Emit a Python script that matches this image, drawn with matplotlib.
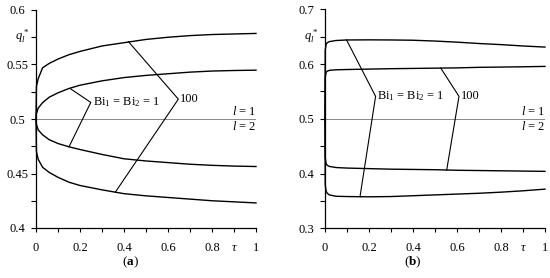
import numpy as np
import matplotlib
matplotlib.use("Agg")
import matplotlib.pyplot as plt

plt.rcParams['font.family'] = ['Liberation Serif', 'DejaVu Serif']
plt.rcParams['mathtext.fontset'] = 'custom'
plt.rcParams['mathtext.rm'] = 'Liberation Serif'
plt.rcParams['mathtext.it'] = 'Liberation Serif:italic'
plt.rcParams['mathtext.bf'] = 'Liberation Serif:bold'

# ---- panel (a) data
tau_a = [0, 0.002, 0.01, 0.03, 0.06, 0.1, 0.15, 0.2, 0.3, 0.4, 0.5, 0.6, 0.7, 0.8, 0.9, 1.0]
a_l1_bi100 = [0.5, 0.53, 0.537, 0.547, 0.551, 0.555, 0.559, 0.562, 0.567, 0.570, 0.573, 0.575, 0.5765, 0.5775, 0.578, 0.5785]
a_l1_bi1 = [0.5, 0.505, 0.510, 0.515, 0.520, 0.524, 0.528, 0.531, 0.535, 0.538, 0.540, 0.5415, 0.543, 0.544, 0.5445, 0.5448]
a_l2_bi1 = [0.5, 0.495, 0.490, 0.4855, 0.481, 0.4775, 0.4745, 0.472, 0.4675, 0.4635, 0.4615, 0.4600, 0.4585, 0.4575, 0.4568, 0.4564]
a_l2_bi100 = [0.5, 0.47, 0.463, 0.4557, 0.451, 0.4465, 0.442, 0.439, 0.435, 0.4315, 0.4295, 0.428, 0.4265, 0.425, 0.424, 0.423]
# connector polylines (tau, q)
a_conn_bi1 = ([0.155, 0.249, 0.15], [0.528, 0.5152, 0.4745])
a_conn_bi100 = ([0.42, 0.647, 0.36], [0.571, 0.5182, 0.4327])

# ---- panel (b) data
tau_b = [0, 0.001, 0.005, 0.01, 0.02, 0.05, 0.1, 0.2, 0.3, 0.4, 0.5, 0.6, 0.7, 0.8, 0.9, 1.0]
b_l1_bi1 = [0.5, 0.625, 0.636, 0.639, 0.641, 0.643, 0.644, 0.6442, 0.644, 0.6435, 0.642, 0.640, 0.6375, 0.6355, 0.633, 0.631]
b_l1_bi100 = [0.5, 0.575, 0.585, 0.587, 0.5885, 0.5895, 0.590, 0.5908, 0.5915, 0.592, 0.5925, 0.593, 0.594, 0.5945, 0.595, 0.5957]
b_l2_bi100 = [0.5, 0.43, 0.418, 0.415, 0.413, 0.411, 0.410, 0.409, 0.408, 0.4075, 0.407, 0.406, 0.4055, 0.405, 0.4045, 0.404]
b_l2_bi1 = [0.5, 0.38, 0.368, 0.364, 0.361, 0.3585, 0.358, 0.3575, 0.358, 0.3595, 0.361, 0.3625, 0.364, 0.366, 0.3685, 0.3715]
b_conn_bi1 = ([0.098, 0.23, 0.159], [0.644, 0.541, 0.3575])
b_conn_bi100 = ([0.526, 0.609, 0.553], [0.5927, 0.541, 0.406])

x_major = [0, 0.2, 0.4, 0.6, 0.8, 1]
x_labels = ['0', '0.2', '0.4', '0.6', '0.8', '1']
x_minor = [0.1, 0.3, 0.5, 0.7, 0.9]
x_minor_labels = ['', '', '', '', r'$\tau$']

fs = 9
fig = plt.figure(figsize=(5.5, 2.78), dpi=100)
ax1 = fig.add_axes([36/550, 50/278, 220/550, 218/278])
ax2 = fig.add_axes([325/550, 49.7/278, 220/550, 219/278])


def setup(ax, ylim, ymajor, ymajor_labels, yminor, qy):
    ax.set_xlim(0, 1)
    ax.set_ylim(*ylim)
    for s in ['top', 'right']:
        ax.spines[s].set_visible(False)
    for s in ['left', 'bottom']:
        ax.spines[s].set_linewidth(0.9)
    ax.set_xticks(x_major, x_labels)
    ax.set_xticks(x_minor, x_minor_labels, minor=True)
    ax.set_yticks(ymajor, ymajor_labels)
    ax.set_yticks(yminor, minor=True)
    ax.tick_params(axis='x', which='both', direction='out', length=3, width=0.8,
                   pad=7, labelsize=fs)
    ax.tick_params(axis='y', which='both', direction='out', length=3.6, width=0.8,
                   pad=9.5, labelsize=fs)
    for t in ax.get_yticklabels():
        t.set_horizontalalignment('center')
    ax.text(-0.064, qy, r'$q_l^*$', transform=ax.get_yaxis_transform(),
            ha='center', va='center', fontsize=fs)
    ax.axhline(0.5, color='#888888', lw=0.7, zorder=1)
    dy = (ylim[1] - ylim[0]) * 0.033
    ax.text(1.0, 0.5 + dy, r'$l$ = 1', ha='right', va='center', fontsize=fs)
    ax.text(1.0, 0.5 - dy, r'$l$ = 2', ha='right', va='center', fontsize=fs)


setup(ax1, (0.4, 0.6), [0.4, 0.45, 0.5, 0.55, 0.6], ['0.4', '0.45', '0.5', '0.55', '0.6'],
      [0.425, 0.475, 0.525, 0.575], 0.575)
for q in [a_l1_bi100, a_l1_bi1, a_l2_bi1, a_l2_bi100]:
    ax1.plot(tau_a, q, color='black', lw=1.0, clip_on=False)
for cx, cy in [a_conn_bi1, a_conn_bi100]:
    ax1.plot(cx, cy, color='black', lw=0.8)
ax1.text(0.259, 0.5152, r'Bi$_1$ = Bi$_2$ = 1', ha='left', va='center', fontsize=fs)
ax1.text(0.655, 0.5182, '100', ha='left', va='center', fontsize=fs)

setup(ax2, (0.3, 0.7), [0.3, 0.4, 0.5, 0.6, 0.7], ['0.3', '0.4', '0.5', '0.6', '0.7'],
      [0.35, 0.45, 0.55, 0.65], 0.65)
for q in [b_l1_bi1, b_l1_bi100, b_l2_bi100, b_l2_bi1]:
    ax2.plot(tau_b, q, color='black', lw=1.0, clip_on=False)
for cx, cy in [b_conn_bi1, b_conn_bi100]:
    ax2.plot(cx, cy, color='black', lw=0.8)
ax2.text(0.238, 0.541, r'Bi$_1$ = Bi$_2$ = 1', ha='left', va='center', fontsize=fs)
ax2.text(0.616, 0.541, '100', ha='left', va='center', fontsize=fs)

fig.text(130/550, 1 - 262/278, r'($\mathbf{a}$)', ha='center', va='center', fontsize=fs + 0.5)
fig.text(413/550, 1 - 262/278, r'($\mathbf{b}$)', ha='center', va='center', fontsize=fs + 0.5)

fig.savefig('out.png', dpi=100)
